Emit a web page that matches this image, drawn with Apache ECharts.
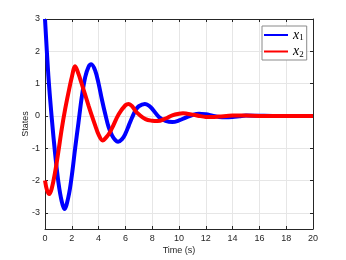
<!DOCTYPE html>
<html>
<head>
<meta charset="utf-8">
<script src="https://cdn.jsdelivr.net/npm/echarts@6/dist/echarts.min.js"></script>
<style>html,body{margin:0;padding:0;background:#fff;}#c{width:346px;height:260px;}</style>
</head>
<body>
<div id="c"></div>
<script>
// ---- data ----
var seriesNames = ['x1', 'x2'];
var t1 = [0,0.25,0.5,0.75,1.0,1.25,1.45,1.75,2.0,2.25,2.5,2.75,3.0,3.25,3.45,3.75,4.0,4.25,4.5,4.75,5.0,5.25,5.45,5.75,6.0,6.25,6.5,6.75,7.0,7.45,7.75,8.0,8.5,9.0,9.5,10,10.5,11,11.5,12,12.5,13,13.5,14,14.5,15,16,17,18,19,20];
var x1 = [3.0,1.25,-0.05,-1.15,-2.05,-2.65,-2.88,-2.5,-1.85,-1.0,-0.2,0.6,1.2,1.52,1.6,1.4,1.0,0.5,0.05,-0.35,-0.6,-0.75,-0.8,-0.72,-0.55,-0.3,-0.05,0.17,0.3,0.37,0.32,0.22,-0.03,-0.15,-0.19,-0.14,-0.05,0.03,0.07,0.05,0.01,-0.03,-0.04,-0.03,-0.01,0.01,0.005,0,0,0,0];
var t2 = [0,0.15,0.32,0.5,0.75,1.0,1.25,1.5,1.75,2.0,2.25,2.5,2.75,3.0,3.25,3.5,3.75,4.0,4.3,4.6,4.85,5.0,5.5,6.0,6.25,6.5,6.75,7.0,7.5,8.0,8.4,9.0,9.5,10,10.3,11,11.5,12,12.5,13,14,15,16,17,18,19,20];
var x2 = [-2.0,-2.3,-2.42,-2.25,-1.75,-1.1,-0.4,0.2,0.72,1.2,1.54,1.3,0.98,0.65,0.32,0.0,-0.3,-0.58,-0.76,-0.65,-0.5,-0.38,0.05,0.33,0.37,0.3,0.15,0.05,-0.1,-0.15,-0.16,-0.08,0.02,0.07,0.08,0.04,0.0,-0.03,-0.035,-0.02,0.01,0.01,0,0,0,0,0];
var xTicks = {min: 0, max: 20, interval: 2};
var yRange = {min: -3.5, max: 3};

function zip(a, b) { return a.map(function (v, i) { return [v, b[i]]; }); }

var axisColor = '#262626';
var gridColor = '#e6e6e6';
var font = 'Liberation Sans, Arial, sans-serif';

var chart = echarts.init(document.getElementById('c'), null, {renderer: 'canvas'});
chart.setOption({
  animation: false,
  backgroundColor: '#ffffff',
  grid: {left: 45, right: 33, top: 19, bottom: 29, containLabel: false},
  legend: {
    data: seriesNames,
    orient: 'vertical',
    left: 262, top: 26,
    backgroundColor: '#ffffff',
    borderColor: '#8a8a8a', borderWidth: 1,
    padding: [2, 3, 1, 2],
    icon: 'rect',
    itemWidth: 24, itemHeight: 2, itemGap: 2,
    formatter: function (n) { return '{i|x}{s|' + n.slice(1) + '}'; },
    textStyle: {
      rich: {
        i: {fontFamily: 'Liberation Serif, serif', fontStyle: 'italic', fontSize: 14, color: '#000', lineHeight: 15},
        s: {fontFamily: 'Liberation Serif, serif', fontSize: 9, color: '#000', lineHeight: 15, verticalAlign: 'bottom'}
      }
    }
  },
  xAxis: [{
    type: 'value', position: 'bottom', min: xTicks.min, max: xTicks.max, interval: xTicks.interval,
    axisLine: {show: true, onZero: false, lineStyle: {color: axisColor, width: 1}},
    axisTick: {show: true, inside: true, length: 3, lineStyle: {color: axisColor}},
    axisLabel: {color: axisColor, fontSize: 9, fontFamily: font, margin: 5},
    splitLine: {show: true, lineStyle: {color: gridColor, width: 1}},
    name: 'Time (s)', nameLocation: 'middle', nameGap: 17, nameMoveOverlap: false,
    nameTextStyle: {color: axisColor, fontSize: 9, fontFamily: font}
  }, {
    type: 'value', position: 'top', min: xTicks.min, max: xTicks.max, interval: xTicks.interval,
    axisLine: {show: true, onZero: false, lineStyle: {color: axisColor, width: 1}},
    axisTick: {show: true, inside: true, length: 3, lineStyle: {color: axisColor}},
    axisLabel: {show: false}, splitLine: {show: false}
  }],
  yAxis: [{
    type: 'value', position: 'left', min: yRange.min, max: yRange.max,
    axisLine: {show: true, onZero: false, lineStyle: {color: axisColor, width: 1}},
    axisTick: {show: true, inside: true, length: 3, lineStyle: {color: axisColor}},
    axisLabel: {color: axisColor, fontSize: 9, fontFamily: font, margin: 5, showMinLabel: false},
    splitLine: {show: true, lineStyle: {color: gridColor, width: 1}},
    name: 'States', nameLocation: 'middle', nameGap: 15, nameRotate: 90, nameMoveOverlap: false,
    nameTextStyle: {color: axisColor, fontSize: 9, fontFamily: font}
  }, {
    type: 'value', position: 'right', min: yRange.min, max: yRange.max,
    axisLine: {show: true, onZero: false, lineStyle: {color: axisColor, width: 1}},
    axisTick: {show: true, inside: true, length: 3, lineStyle: {color: axisColor}},
    axisLabel: {show: false}, splitLine: {show: false}
  }],
  series: [{
    name: 'x1', type: 'line', xAxisIndex: 0, yAxisIndex: 0,
    data: zip(t1, x1), smooth: 0.35, showSymbol: false, symbol: 'none',
    lineStyle: {color: '#0000ff', width: 4}, itemStyle: {color: '#0000ff'}
  }, {
    name: 'x2', type: 'line', xAxisIndex: 0, yAxisIndex: 0,
    data: zip(t2, x2), smooth: 0.35, showSymbol: false, symbol: 'none',
    lineStyle: {color: '#ff0000', width: 4}, itemStyle: {color: '#ff0000'}
  }]
});
</script>
</body>
</html>
